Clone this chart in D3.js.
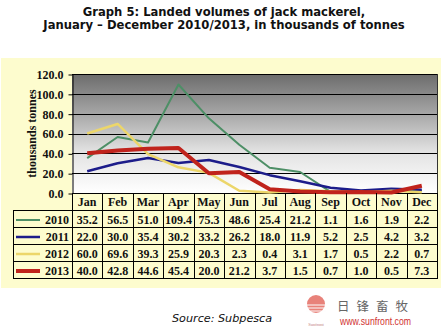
<!DOCTYPE html>
<html><head><meta charset="utf-8">
<script src="https://cdn.jsdelivr.net/npm/d3@7"></script>
<style>body{margin:0;background:#fff;}svg{display:block;}</style>
</head><body>
<svg id="c" width="441" height="329"></svg>
<script>
const months = ["Jan","Feb","Mar","Apr","May","Jun","Jul","Aug","Sep","Oct","Nov","Dec"];
const years = ["2010","2011","2012","2013"];
const v2010 = [35.2,56.5,51.0,109.4,75.3,48.6,25.4,21.2,1.1,1.6,1.9,2.2];
const v2011 = [22.0,30.0,35.4,30.2,33.2,26.2,18.0,11.9,5.2,2.5,4.2,3.2];
const v2012 = [60.0,69.6,39.3,25.9,20.3,2.3,0.4,3.1,1.7,0.5,2.2,0.7];
const v2013 = [40.0,42.8,44.6,45.4,20.0,21.2,3.7,1.5,0.7,1.0,0.5,7.3];
const yTicks = [0,20,40,60,80,100,120];
const seriesColors = ["#4d8f66","#1c1c8a","#ecd66a","#c0231c"];
const seriesWidths = [2,2.5,2.5,4];
const series = [v2010,v2011,v2012,v2013];

const svg = d3.select("#c");
const serif = "Liberation Serif";
const sans = "DejaVu Sans";

// title
svg.append("text").attr("x",224).attr("y",16).attr("text-anchor","middle")
  .attr("font-family",sans).attr("font-weight","bold").attr("font-size",11.6).attr("fill","#111")
  .text("Graph 5: Landed volumes of jack mackerel,");
svg.append("text").attr("x",224).attr("y",29).attr("text-anchor","middle")
  .attr("font-family",sans).attr("font-weight","bold").attr("font-size",11.6).attr("fill","#111")
  .text("January \u2013 December 2010/2013, in thousands of tonnes");

// yellow panel
svg.append("rect").attr("x",1).attr("y",58).attr("width",440).attr("height",230).attr("fill","#fdfcce");

const L=72, R=437, T=74, B=193;
const x = d3.scaleBand().domain(months).range([L,R]);
const y = d3.scaleLinear().domain([0,120]).range([B,T]);

const defs = svg.append("defs");
const g = defs.append("linearGradient").attr("id","bg").attr("x1",0).attr("y1",0).attr("x2",0).attr("y2",1);
g.append("stop").attr("offset","0%").attr("stop-color","#6c6c6c");
g.append("stop").attr("offset","30%").attr("stop-color","#a0a0a0");
g.append("stop").attr("offset","65%").attr("stop-color","#e2e2e2");
g.append("stop").attr("offset","100%").attr("stop-color","#ffffff");
svg.append("rect").attr("x",L).attr("y",T).attr("width",R-L).attr("height",B-T).attr("fill","url(#bg)");

// gridlines
svg.append("g").selectAll("line").data(yTicks).join("line")
  .attr("x1",L).attr("x2",R).attr("y1",d=>Math.round(y(d))+0.5).attr("y2",d=>Math.round(y(d))+0.5)
  .attr("stroke","#000").attr("stroke-width",1);
svg.append("line").attr("x1",R+0.5).attr("x2",R+0.5).attr("y1",T).attr("y2",B).attr("stroke","#333");

// y axis
const ya = svg.append("g").attr("transform",`translate(${L+0.5},0.5)`)
  .call(d3.axisLeft(y).tickValues(yTicks).tickSize(4).tickSizeOuter(0).tickFormat(d3.format(".1f")));
ya.attr("font-family",serif);
ya.select(".domain").attr("stroke","#000");
ya.selectAll("line").attr("stroke","#000");
ya.selectAll("text").attr("font-family",serif).attr("font-weight","bold").attr("font-size",12).attr("fill","#111").attr("dx",-2);

svg.append("text").attr("transform",`translate(36,${(T+B)/2}) rotate(-90)`).attr("text-anchor","middle")
  .attr("font-family",serif).attr("font-weight","bold").attr("font-size",12).attr("fill","#111")
  .text("thousands tonnes");

// lines
const line = d3.line().x((d,i)=>x(months[i])+x.bandwidth()/2).y(d=>y(d));
series.forEach((s,k)=>{
  svg.append("path").datum(s).attr("d",line).attr("fill","none")
    .attr("stroke",seriesColors[k]).attr("stroke-width",seriesWidths[k]).attr("stroke-linejoin","round");
});

// month header
const hdrB = 210.5;
svg.append("line").attr("x1",L).attr("x2",R).attr("y1",hdrB).attr("y2",hdrB).attr("stroke","#000");
svg.append("g").selectAll("line").data(months).join("line")
  .attr("x1",d=>Math.round(x(d))+0.5).attr("x2",d=>Math.round(x(d))+0.5).attr("y1",B).attr("y2",hdrB).attr("stroke","#000");
svg.append("line").attr("x1",R+0.5).attr("x2",R+0.5).attr("y1",B).attr("y2",hdrB).attr("stroke","#000");
svg.append("g").selectAll("text").data(months).join("text")
  .attr("x",d=>x(d)+x.bandwidth()/2).attr("y",206).attr("text-anchor","middle")
  .attr("font-family",serif).attr("font-weight","bold").attr("font-size",12).attr("fill","#111").text(d=>d);

// data table
const tL = 13.5, rowH = 17;
const rowY = i => hdrB + i*rowH;
svg.append("rect").attr("x",tL).attr("y",hdrB).attr("width",R+0.5-tL).attr("height",rowH*4).attr("fill","none").attr("stroke","#000");
for(let i=1;i<4;i++) svg.append("line").attr("x1",tL).attr("x2",R).attr("y1",rowY(i)).attr("y2",rowY(i)).attr("stroke","#000");
svg.append("g").selectAll("line").data(months).join("line")
  .attr("x1",d=>Math.round(x(d))+0.5).attr("x2",d=>Math.round(x(d))+0.5).attr("y1",hdrB).attr("y2",hdrB+rowH*4).attr("stroke","#000");
years.forEach((yr,k)=>{
  const cy = rowY(k)+rowH/2;
  svg.append("line").attr("x1",16).attr("x2",40).attr("y1",cy+1).attr("y2",cy+1)
    .attr("stroke",seriesColors[k]).attr("stroke-width",seriesWidths[k]);
  svg.append("text").attr("x",69).attr("y",cy+5).attr("text-anchor","end")
    .attr("font-family",serif).attr("font-weight","bold").attr("font-size",12).attr("fill","#111").text(yr);
  svg.append("g").selectAll("text").data(series[k]).join("text")
    .attr("x",(d,i)=>x(months[i])+x.bandwidth()/2).attr("y",cy+4.5).attr("text-anchor","middle")
    .attr("font-family",serif).attr("font-weight","bold").attr("font-size",12).attr("fill","#111")
    .text(d=>d.toFixed(1));
});

// source
svg.append("text").attr("x",172).attr("y",322).attr("font-family",sans).attr("font-style","italic")
  .attr("font-size",11.2).attr("fill","#111").text("Source: Subpesca");

// logo
svg.append("circle").attr("cx",316).attr("cy",304).attr("r",9).attr("fill","#e8827a");
[305,308,311].forEach(yy=>svg.append("line").attr("x1",306).attr("x2",326).attr("y1",yy).attr("y2",yy).attr("stroke","#fdfdfd").attr("stroke-width",1));
svg.append("text").attr("x",316).attr("y",326).attr("text-anchor","middle").attr("font-family",serif)
  .attr("font-size",4.5).attr("fill","#c08080").text("Sunfront");
svg.append("text").attr("x",337).attr("y",311).attr("font-family","Noto Sans CJK SC")
  .attr("font-size",12.5).attr("fill","#666").attr("letter-spacing",7).text("日锋畜牧");
svg.append("text").attr("x",340).attr("y",325).attr("font-family","Liberation Sans Narrow, Liberation Sans, sans-serif")
  .attr("font-size",10).attr("fill","#d03030").attr("textLength",71).attr("lengthAdjust","spacingAndGlyphs").text("www.sunfront.com");
</script>
</body></html>
